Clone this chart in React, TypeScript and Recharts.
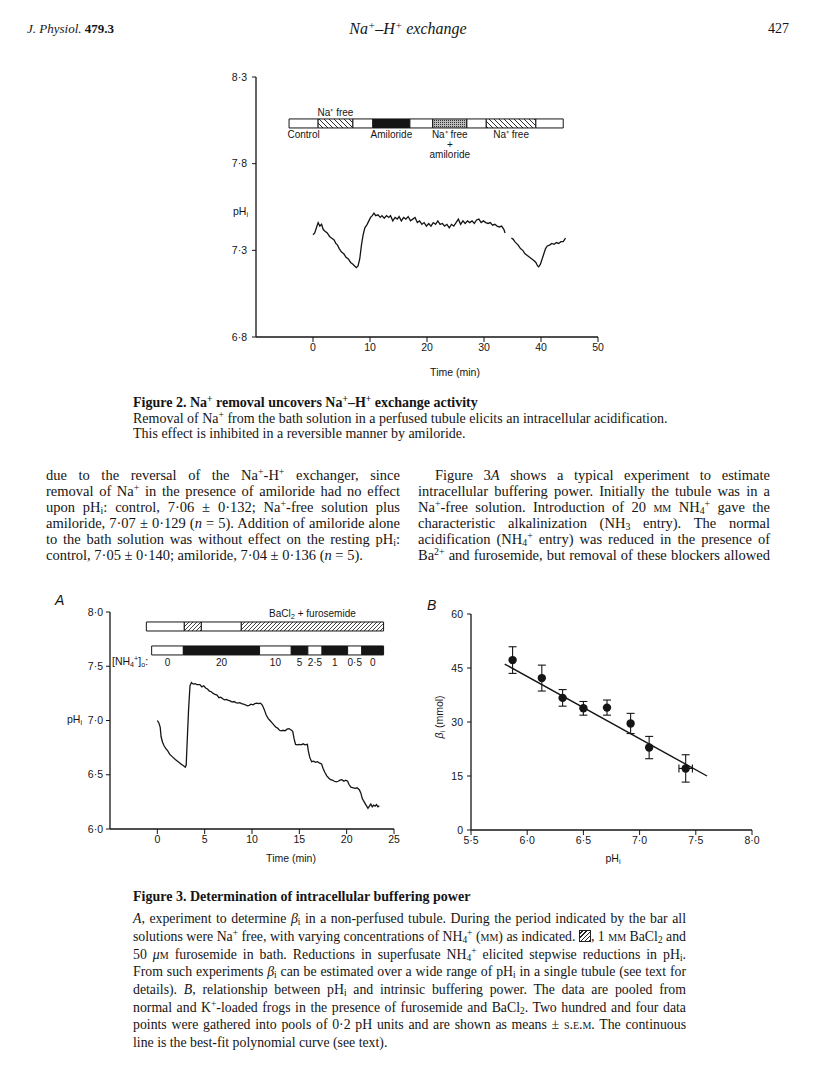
import React from "react";
import {
  ComposedChart,
  Line,
  Scatter,
  XAxis,
  YAxis,
  ReferenceArea,
  ErrorBar,
} from "recharts";

const SANS = "'Liberation Sans', Arial, Helvetica, sans-serif";
const SERIF = "'Liberation Serif', 'Times New Roman', serif";
const INK = "#151515";

// Figure 2: pHi trace of a perfused tubule (time in min). null = gap in the record
const fig2Time = [
  0, 0.3, 0.6, 0.9, 1.2, 1.5, 1.8, 2.1, 2.5, 2.9, 3.3, 3.7, 4.0, 4.3, 4.6, 5.0,
  5.4, 5.8, 6.2, 6.6, 7.0, 7.3, 7.6, 7.9, 8.2, 8.5, 8.8, 9.1, 9.5, 9.8, 10.1,
  10.4, 10.7, 11.0, 11.4, 11.8, 12.1, 12.5, 12.9, 13.3, 13.6, 14.0, 14.4, 14.8,
  15.1, 15.5, 15.9, 16.3, 16.7, 17.1, 17.5, 17.9, 18.3, 18.7, 19.1, 19.5, 19.9,
  20.3, 20.7, 21.1, 21.5, 21.9, 22.3, 22.7, 23.1, 23.5, 23.9, 24.3, 24.7, 25.1,
  25.5, 25.9, 26.3, 26.7, 27.1, 27.5, 27.9, 28.3, 28.7, 29.1, 29.5, 29.9, 30.3,
  30.7, 31.1, 31.5, 31.9, 32.3, 32.7, 33.1, 33.5, 33.7, 34.2, 34.8, 35.1, 35.4,
  35.7, 36.0, 36.4, 36.8, 37.2, 37.6, 38.0, 38.4, 38.8, 39.1, 39.4, 39.6, 39.9,
  40.2, 40.5, 40.8, 41.1, 41.5, 41.9, 42.3, 42.7, 43.1, 43.5, 43.9, 44.3,
];
const fig2PH: (number | null)[] = [
  7.39, 7.4, 7.43, 7.46, 7.44, 7.45, 7.42, 7.41, 7.4, 7.38, 7.37, 7.36, 7.34,
  7.33, 7.31, 7.29, 7.28, 7.26, 7.25, 7.23, 7.22, 7.21, 7.2, 7.21, 7.25, 7.33,
  7.39, 7.43, 7.45, 7.47, 7.49, 7.5, 7.515, 7.5, 7.505, 7.49, 7.5, 7.485, 7.5,
  7.49, 7.5, 7.47, 7.49, 7.48, 7.495, 7.47, 7.49, 7.48, 7.495, 7.47, 7.48, 7.49,
  7.46, 7.47, 7.45, 7.46, 7.44, 7.455, 7.44, 7.46, 7.45, 7.47, 7.45, 7.455,
  7.44, 7.45, 7.43, 7.45, 7.44, 7.46, 7.48, 7.45, 7.47, 7.455, 7.47, 7.46, 7.47,
  7.455, 7.475, 7.48, 7.46, 7.47, 7.46, 7.455, 7.46, 7.445, 7.45, 7.44, 7.435,
  7.44, 7.42, 7.4, null, 7.37, 7.365, 7.35, 7.34, 7.33, 7.31, 7.3, 7.28, 7.27,
  7.26, 7.25, 7.24, 7.23, 7.21, 7.205, 7.22, 7.25, 7.28, 7.31, 7.325, 7.33,
  7.34, 7.335, 7.345, 7.34, 7.35, 7.35, 7.37,
];

// Figure 2: solution bar (switch times, min) and what was in the bath
const fig2Edges = [-4.2, 0.9, 7.0, 10.5, 17.0, 21.0, 27.0, 30.4, 39.1, 43.9];
const fig2Kinds = ["control", "naFree", "control", "amiloride", "control", "both", "control", "naFree", "control"];
const fig2Names: (string[] | null)[] = [
  ["Control"], ["Na⁺ free"], null, ["Amiloride"], null,
  ["Na⁺ free", "+", "amiloride"], null, ["Na⁺ free"], null,
];

// Figure 3A: pHi trace of a non-perfused tubule
const fig3aTime = [
  0, 0.15, 0.3, 0.4, 0.55, 0.7, 0.9, 1.1, 1.3, 1.6, 1.9, 2.2, 2.5, 2.8, 2.95,
  3.05, 3.15, 3.3, 3.45, 3.6, 3.8, 4.0, 4.2, 4.5, 4.7, 4.9, 5.1, 5.3, 5.5, 5.7,
  5.9, 6.1, 6.3, 6.5, 6.7, 6.9, 7.1, 7.3, 7.5, 7.7, 7.9, 8.1, 8.3, 8.5, 8.7, 8.9,
  9.1, 9.3, 9.5, 9.7, 9.9, 10.1, 10.3, 10.5, 10.7, 10.9, 11.1, 11.3, 11.5, 11.7,
  11.9, 12.1, 12.3, 12.5, 12.7, 12.9, 13.1, 13.3, 13.5, 13.7, 13.9, 14.1, 14.3,
  14.45, 14.6, 14.8, 15.0, 15.2, 15.4, 15.6, 15.85, 15.95, 16.1, 16.3, 16.5,
  16.7, 16.9, 17.1, 17.35, 17.5, 17.7, 17.9, 18.1, 18.3, 18.5, 18.7, 18.9, 19.1,
  19.3, 19.5, 19.7, 19.9, 20.1, 20.25, 20.45, 20.7, 20.9, 21.1, 21.35, 21.5,
  21.65, 21.85, 22.05, 22.25, 22.4, 22.55, 22.7, 22.85, 23.0, 23.15, 23.3, 23.45,
];
const fig3aPH = [
  7.0, 6.98, 6.94, 6.85, 6.8, 6.77, 6.74, 6.72, 6.69, 6.665, 6.64, 6.62, 6.6,
  6.58, 6.57, 6.59, 6.8, 7.1, 7.32, 7.35, 7.335, 7.34, 7.33, 7.33, 7.31, 7.32,
  7.3, 7.29, 7.27, 7.265, 7.25, 7.24, 7.235, 7.21, 7.215, 7.2, 7.19, 7.195,
  7.185, 7.18, 7.17, 7.175, 7.165, 7.16, 7.165, 7.155, 7.15, 7.145, 7.135, 7.14,
  7.15, 7.145, 7.155, 7.16, 7.155, 7.16, 7.14, 7.1, 7.05, 7.02, 7.0, 6.98, 6.96,
  6.94, 6.93, 6.91, 6.905, 6.91, 6.905, 6.92, 6.925, 6.915, 6.9, 6.83, 6.78,
  6.775, 6.78, 6.775, 6.785, 6.775, 6.78, 6.72, 6.66, 6.62, 6.625, 6.615, 6.62,
  6.61, 6.6, 6.56, 6.52, 6.49, 6.47, 6.455, 6.45, 6.44, 6.435, 6.44, 6.45,
  6.455, 6.44, 6.45, 6.44, 6.41, 6.385, 6.38, 6.375, 6.38, 6.36, 6.33, 6.28,
  6.25, 6.22, 6.19, 6.21, 6.23, 6.205, 6.22, 6.21, 6.225, 6.205, 6.215,
];

// Figure 3A: bath (BaCl2 + furosemide) and [NH4+]o bars
const bathEdges = [-1.16, 2.85, 4.65, 8.87, 23.9];
const bathBlocked = [false, true, false, true];
const nh4Edges = [-0.6, 2.75, 10.8, 14.15, 15.9, 17.4, 20.1, 21.6, 23.9];
const nh4Conc = [0, 20, 10, 5, 2.5, 1, 0.5, 0];

// Figure 3B: buffering power vs pHi (means ± s.e.m.)
const bPH = [5.87, 6.13, 6.315, 6.5, 6.71, 6.92, 7.085, 7.41];
const bBeta = [47.2, 42.2, 36.7, 33.8, 34.0, 29.6, 22.9, 17.1];
const bErr = [3.7, 3.6, 2.3, 1.9, 2.1, 2.8, 3.1, 3.8];
const bXErr = [0, 0, 0, 0, 0, 0, 0, 0.06];
const fitPH = [5.8, 7.6];
const fitBeta = [46.1, 15.0];

const fig2Rows = fig2Time.map((t, i) => ({ t, ph: fig2PH[i] }));
const fig3aRows = fig3aTime.map((t, i) => ({ t, ph: fig3aPH[i] }));
const bRows = bPH.map((ph, i) => ({ ph, beta: bBeta[i], err: bErr[i], xerr: bXErr[i] }));
const fitRows = fitPH.map((ph, i) => ({ ph, beta: fitBeta[i] }));

const dec = (v: number) => v.toFixed(1).replace(".", "·");
const tickStyle = { fontSize: 10.5, fill: INK, fontFamily: SANS };
const axisLine = { stroke: INK, strokeWidth: 1.3 };
const tickLine = { stroke: INK, strokeWidth: 1 };

function barText(lines: React.ReactNode[], side: "top" | "bottom", gap: number) {
  return (props: any) => {
    const vb = props.viewBox;
    if (!vb) return null;
    const cx = vb.x + vb.width / 2;
    const y = side === "top" ? vb.y - gap : vb.y + vb.height + gap;
    return (
      <text x={cx} y={y} textAnchor="middle" fontFamily={SANS} fontSize={10} fill={INK}>
        {lines.map((l, i) => (
          <tspan key={i} x={cx} dy={i === 0 ? 0 : 10}>
            {l}
          </tspan>
        ))}
      </text>
    );
  };
}

const Sup = ({ children }: { children: React.ReactNode }) => (
  <span style={{ fontSize: "0.68em", verticalAlign: "0.5em", lineHeight: 0 }}>{children}</span>
);
const Sub = ({ children }: { children: React.ReactNode }) => (
  <span style={{ fontSize: "0.68em", verticalAlign: "-0.25em", lineHeight: 0 }}>{children}</span>
);
const Sc = ({ children }: { children: React.ReactNode }) => (
  <span style={{ fontVariant: "small-caps" }}>{children}</span>
);

function TextLine(props: {
  x: number;
  y: number;
  w?: number;
  size: number;
  justify?: boolean;
  bold?: boolean;
  italic?: boolean;
  children: React.ReactNode;
}) {
  const { x, y, w, size, justify, bold, italic, children } = props;
  return (
    <div
      style={{
        position: "absolute",
        left: x,
        top: y - size * 0.6,
        width: w,
        fontSize: size,
        lineHeight: `${size * 1.2}px`,
        fontFamily: SERIF,
        fontWeight: bold ? 700 : 400,
        fontStyle: italic ? "italic" : "normal",
        textAlign: justify ? "justify" : "left",
        textAlignLast: justify ? "justify" : "left",
        whiteSpace: "nowrap",
        color: INK,
      }}
    >
      {children}
    </div>
  );
}

function Figure2() {
  const barLo = 8.006;
  const barHi = 8.058;
  const fills: Record<string, string> = {
    control: "#fff",
    naFree: "url(#f2hatch)",
    amiloride: INK,
    both: "url(#f2dots)",
  };
  return (
    <div style={{ position: "absolute", left: 180, top: 60 }}>
      <ComposedChart
        width={440}
        height={330}
        data={fig2Rows}
        margin={{ top: 17, right: 22, bottom: 23, left: 16 }}
      >
        <defs>
          <pattern id="f2hatch" patternUnits="userSpaceOnUse" width="5" height="5">
            <rect width="5" height="5" fill="#fff" />
            <path d="M-1,-1 L6,6 M-1,4 L1,6 M4,-1 L6,1" stroke={INK} strokeWidth="0.9" />
          </pattern>
          <pattern id="f2dots" patternUnits="userSpaceOnUse" width="2" height="2">
            <rect width="2" height="2" fill="#bbb" />
            <rect x="0" y="0" width="1" height="1" fill="#333" />
          </pattern>
        </defs>
        <XAxis
          type="number"
          dataKey="t"
          domain={[-10, 50]}
          ticks={[0, 10, 20, 30, 40, 50]}
          allowDataOverflow
          height={30}
          tickSize={5}
          tickMargin={2}
          tick={tickStyle}
          axisLine={axisLine}
          tickLine={tickLine}
        />
        <YAxis
          type="number"
          domain={[6.8, 8.3]}
          ticks={[6.8, 7.3, 7.8, 8.3]}
          allowDataOverflow
          width={60}
          tickSize={4}
          tickMargin={5}
          tick={tickStyle}
          tickFormatter={dec}
          axisLine={axisLine}
          tickLine={tickLine}
        />
        {fig2Kinds.map((k, i) => {
          const names = fig2Names[i];
          const side = i === 1 ? "top" : "bottom";
          return (
            <ReferenceArea
              key={"s" + i}
              x1={fig2Edges[i]}
              x2={fig2Edges[i + 1]}
              y1={barLo}
              y2={barHi}
              fill={fills[k]}
              fillOpacity={1}
              stroke={INK}
              strokeWidth={1}
              label={names ? barText(names, side, side === "top" ? 3 : 10) : undefined}
            />
          );
        })}
        <Line
          type="linear"
          dataKey="ph"
          stroke={INK}
          strokeWidth={1.3}
          dot={false}
          connectNulls={false}
          isAnimationActive={false}
        />
      </ComposedChart>
    </div>
  );
}

function Figure3A() {
  const bathLo = 7.825;
  const bathHi = 7.908;
  const nhLo = 7.604;
  const nhHi = 7.687;
  return (
    <div style={{ position: "absolute", left: 40, top: 595 }}>
      <ComposedChart
        width={380}
        height={280}
        data={fig3aRows}
        margin={{ top: 17, right: 26, bottom: 16, left: 10 }}
      >
        <defs>
          <pattern id="f3hatch" patternUnits="userSpaceOnUse" width="4" height="4">
            <rect width="4" height="4" fill="#fff" />
            <path d="M0,4 L4,0 M-1,1 L1,-1 M3,5 L5,3" stroke={INK} strokeWidth="0.8" />
          </pattern>
        </defs>
        <XAxis
          type="number"
          dataKey="t"
          domain={[-5, 25]}
          ticks={[0, 5, 10, 15, 20, 25]}
          allowDataOverflow
          height={30}
          tickSize={5}
          tickMargin={2}
          tick={tickStyle}
          axisLine={axisLine}
          tickLine={tickLine}
        />
        <YAxis
          type="number"
          domain={[6, 8]}
          ticks={[6, 6.5, 7, 7.5, 8]}
          allowDataOverflow
          width={60}
          tickSize={4}
          tickMargin={3}
          tick={tickStyle}
          tickFormatter={dec}
          axisLine={axisLine}
          tickLine={tickLine}
        />
        {bathBlocked.map((b, i) => (
          <ReferenceArea
            key={"b" + i}
            x1={bathEdges[i]}
            x2={bathEdges[i + 1]}
            y1={bathLo}
            y2={bathHi}
            fill={b ? "url(#f3hatch)" : "#fff"}
            fillOpacity={1}
            stroke={INK}
            strokeWidth={1}
            label={
              i === bathBlocked.length - 1
                ? barText(
                    [
                      <>
                        BaCl<tspan dy={2.5} fontSize={7.5}>2</tspan>
                        <tspan dy={-2.5}> + furosemide</tspan>
                      </>,
                    ],
                    "top",
                    5
                  )
                : undefined
            }
          />
        ))}
        {nh4Conc.map((c, i) => (
          <ReferenceArea
            key={"n" + i}
            x1={nh4Edges[i]}
            x2={nh4Edges[i + 1]}
            y1={nhLo}
            y2={nhHi}
            fill={i % 2 === 0 ? "#fff" : INK}
            fillOpacity={1}
            stroke={INK}
            strokeWidth={1}
            label={barText([Number.isInteger(c) ? String(c) : dec(c)], "bottom", 11)}
          />
        ))}
        <Line
          type="linear"
          dataKey="ph"
          stroke={INK}
          strokeWidth={1.3}
          dot={false}
          isAnimationActive={false}
        />
      </ComposedChart>
    </div>
  );
}

function Figure3B() {
  return (
    <div style={{ position: "absolute", left: 420, top: 595 }}>
      <ComposedChart
        width={380}
        height={280}
        margin={{ top: 19, right: 48, bottom: 15, left: 11 }}
      >
        <XAxis
          type="number"
          dataKey="ph"
          domain={[5.5, 8]}
          ticks={[5.5, 6, 6.5, 7, 7.5, 8]}
          allowDataOverflow
          height={30}
          tickSize={5}
          tickMargin={2}
          tick={tickStyle}
          tickFormatter={dec}
          axisLine={axisLine}
          tickLine={tickLine}
        />
        <YAxis
          type="number"
          dataKey="beta"
          domain={[0, 60]}
          ticks={[0, 15, 30, 45, 60]}
          allowDataOverflow
          width={40}
          tickSize={4}
          tickMargin={4}
          tick={tickStyle}
          axisLine={axisLine}
          tickLine={tickLine}
        />
        <Line
          data={fitRows}
          type="linear"
          dataKey="beta"
          stroke={INK}
          strokeWidth={1.4}
          dot={false}
          isAnimationActive={false}
        />
        <Scatter
          data={bRows}
          dataKey="beta"
          isAnimationActive={false}
          shape={(p: any) => <circle cx={p.cx} cy={p.cy} r={4.2} fill={INK} />}
        >
          <ErrorBar dataKey="err" direction="y" width={4} stroke={INK} strokeWidth={1.1} />
          <ErrorBar dataKey="xerr" direction="x" width={4} stroke={INK} strokeWidth={1.1} />
        </Scatter>
      </ComposedChart>
    </div>
  );
}

const sans = (size: number): React.CSSProperties => ({
  position: "absolute",
  fontFamily: SANS,
  fontSize: size,
  color: INK,
  whiteSpace: "nowrap",
  lineHeight: 1,
});

const Hatch = () => (
  <span
    style={{
      display: "inline-block",
      width: 10,
      height: 10,
      border: "1px solid #222",
      verticalAlign: "-1px",
      background: "repeating-linear-gradient(-45deg, #222 0 1px, #fff 1px 3px)",
    }}
  />
);

export default function App() {
  const bodyY = [476, 492, 508, 524, 540, 556];
  const capY = [919, 937, 955, 972, 990, 1008, 1025, 1043];
  const bodySize = 14.5;
  const capSize = 13.8;
  return (
    <div
      style={{
        position: "absolute",
        left: 0,
        top: 0,
        width: 816,
        height: 1088,
        background: "#fff",
        overflow: "hidden",
        fontFamily: SERIF,
      }}
    >
      {/* running head */}
      <TextLine x={27} y={29} size={13}>
        <i>J. Physiol.</i> <b>479.3</b>
      </TextLine>
      <div style={{ position: "absolute", left: 0, width: 816, top: 20, textAlign: "center", fontSize: 16, fontStyle: "italic", fontFamily: SERIF, color: INK }}>
        Na<Sup>+</Sup>–H<Sup>+</Sup> exchange
      </div>
      <TextLine x={768} y={29} size={14}>
        427
      </TextLine>

      <Figure2 />
      <div style={{ ...sans(10.5), left: 233, top: 206 }}>
        pH<Sub>i</Sub>
      </div>
      <div style={{ ...sans(10.5), left: 455, top: 367, transform: "translateX(-50%)" }}>Time (min)</div>

      <TextLine x={133} y={403} size={14} bold>
        Figure 2. Na<Sup>+</Sup> removal uncovers Na<Sup>+</Sup>–H<Sup>+</Sup> exchange activity
      </TextLine>
      <TextLine x={133} y={419} size={14}>
        Removal of Na<Sup>+</Sup> from the bath solution in a perfused tubule elicits an intracellular acidification.
      </TextLine>
      <TextLine x={133} y={434} size={14}>
        This effect is inhibited in a reversible manner by amiloride.
      </TextLine>

      {/* body text, left column */}
      <TextLine x={46} y={bodyY[0]} w={354} size={bodySize} justify>
        due to the reversal of the Na<Sup>+</Sup>-H<Sup>+</Sup> exchanger, since
      </TextLine>
      <TextLine x={46} y={bodyY[1]} w={354} size={bodySize} justify>
        removal of Na<Sup>+</Sup> in the presence of amiloride had no effect
      </TextLine>
      <TextLine x={46} y={bodyY[2]} w={354} size={bodySize} justify>
        upon pH<Sub>i</Sub>: control, 7·06 ± 0·132; Na<Sup>+</Sup>-free solution plus
      </TextLine>
      <TextLine x={46} y={bodyY[3]} w={354} size={bodySize} justify>
        amiloride, 7·07 ± 0·129 (<i>n</i> = 5). Addition of amiloride alone
      </TextLine>
      <TextLine x={46} y={bodyY[4]} w={354} size={bodySize} justify>
        to the bath solution was without effect on the resting pH<Sub>i</Sub>:
      </TextLine>
      <TextLine x={46} y={bodyY[5]} size={bodySize}>
        control, 7·05 ± 0·140; amiloride, 7·04 ± 0·136 (<i>n</i> = 5).
      </TextLine>

      {/* body text, right column */}
      <TextLine x={435} y={bodyY[0]} w={335} size={bodySize} justify>
        Figure 3<i>A</i> shows a typical experiment to estimate
      </TextLine>
      <TextLine x={418} y={bodyY[1]} w={352} size={bodySize} justify>
        intracellular buffering power. Initially the tubule was in a
      </TextLine>
      <TextLine x={418} y={bodyY[2]} w={352} size={bodySize} justify>
        Na<Sup>+</Sup>-free solution. Introduction of 20 <Sc>mm</Sc> NH<Sub>4</Sub><Sup>+</Sup> gave the
      </TextLine>
      <TextLine x={418} y={bodyY[3]} w={352} size={bodySize} justify>
        characteristic alkalinization (NH<Sub>3</Sub> entry). The normal
      </TextLine>
      <TextLine x={418} y={bodyY[4]} w={352} size={bodySize} justify>
        acidification (NH<Sub>4</Sub><Sup>+</Sup> entry) was reduced in the presence of
      </TextLine>
      <TextLine x={418} y={bodyY[5]} w={352} size={bodySize} justify>
        Ba<Sup>2+</Sup> and furosemide, but removal of these blockers allowed
      </TextLine>

      {/* Figure 3 */}
      <div style={{ ...sans(14), left: 55, top: 593, fontStyle: "italic" }}>A</div>
      <div style={{ ...sans(14), left: 427, top: 598, fontStyle: "italic" }}>B</div>
      <Figure3A />
      <div style={{ ...sans(10.5), left: 67, top: 714 }}>
        pH<Sub>i</Sub>
      </div>
      <div style={{ ...sans(10.5), left: 112, top: 656 }}>
        [NH<Sub>4</Sub><Sup>+</Sup>]<Sub>o</Sub>:
      </div>
      <div style={{ ...sans(10.5), left: 291, top: 853, transform: "translateX(-50%)" }}>Time (min)</div>
      <Figure3B />
      <div
        style={{
          ...sans(10.5),
          left: 439,
          top: 717,
          transform: "translate(-50%, -50%) rotate(-90deg)",
        }}
      >
        <i>β</i>
        <Sub>i</Sub> (mmol)
      </div>
      <div style={{ ...sans(10.5), left: 613, top: 853, transform: "translateX(-50%)" }}>
        pH<Sub>i</Sub>
      </div>

      <TextLine x={133} y={897} size={14} bold>
        Figure 3. Determination of intracellular buffering power
      </TextLine>
      <TextLine x={133} y={capY[0]} w={553} size={capSize} justify>
        <i>A</i>, experiment to determine <i>β</i><Sub>i</Sub> in a non-perfused tubule. During the period indicated by the bar all
      </TextLine>
      <TextLine x={133} y={capY[1]} w={553} size={capSize} justify>
        solutions were Na<Sup>+</Sup> free, with varying concentrations of NH<Sub>4</Sub><Sup>+</Sup> (<Sc>mm</Sc>) as indicated. <Hatch />, 1 <Sc>mm</Sc> BaCl<Sub>2</Sub> and
      </TextLine>
      <TextLine x={133} y={capY[2]} w={553} size={capSize} justify>
        50 <i>μ</i><Sc>m</Sc> furosemide in bath. Reductions in superfusate NH<Sub>4</Sub><Sup>+</Sup> elicited stepwise reductions in pH<Sub>i</Sub>.
      </TextLine>
      <TextLine x={133} y={capY[3]} w={553} size={capSize} justify>
        From such experiments <i>β</i><Sub>i</Sub> can be estimated over a wide range of pH<Sub>i</Sub> in a single tubule (see text for
      </TextLine>
      <TextLine x={133} y={capY[4]} w={553} size={capSize} justify>
        details). <i>B</i>, relationship between pH<Sub>i</Sub> and intrinsic buffering power. The data are pooled from
      </TextLine>
      <TextLine x={133} y={capY[5]} w={553} size={capSize} justify>
        normal and K<Sup>+</Sup>-loaded frogs in the presence of furosemide and BaCl<Sub>2</Sub>. Two hundred and four data
      </TextLine>
      <TextLine x={133} y={capY[6]} w={553} size={capSize} justify>
        points were gathered into pools of 0·2 pH units and are shown as means ± <Sc>s.e.m.</Sc> The continuous
      </TextLine>
      <TextLine x={133} y={capY[7]} size={capSize}>
        line is the best-fit polynomial curve (see text).
      </TextLine>
    </div>
  );
}
